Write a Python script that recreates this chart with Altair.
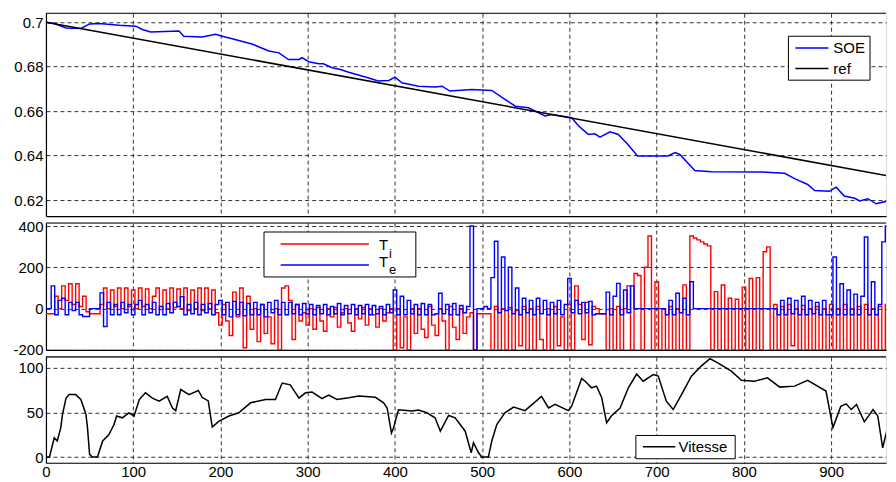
import altair as alt
import pandas as pd

FONT = "Liberation Sans"
X_DOMAIN = [0, 962.8]
X_TICKS = [0, 100, 200, 300, 400, 500, 600, 700, 800, 900]

# ---------------- data ----------------
soe_t = [0, 9.5, 23, 40, 50, 61, 84, 103, 110.5, 120, 152.5, 158, 179, 194.5, 202,
         213.5, 236, 255.5, 267, 278, 290, 293.5, 301, 312.7, 318, 328, 337.5, 347,
         366, 381, 393, 400, 408, 427, 446, 454, 463, 488, 511, 526, 538, 553, 572,
         580, 602.5, 610, 621.6, 629, 635, 646.5, 656, 667, 678, 713, 721, 726.5,
         743.7, 762.7, 820, 846.7, 858, 873, 881, 898, 905.7, 915, 927, 932.6, 942,
         951.5, 965, 970]
soe_v = [0.7, 0.6994, 0.6974, 0.6972, 0.6992, 0.6994, 0.6986, 0.6982, 0.6967, 0.6956,
         0.696, 0.6937, 0.6933, 0.6945, 0.6937, 0.6925, 0.6902, 0.687, 0.6862, 0.6832,
         0.6832, 0.684, 0.6822, 0.6813, 0.6813, 0.6795, 0.6787, 0.6775, 0.6753, 0.6735,
         0.6738, 0.6753, 0.6727, 0.6712, 0.6708, 0.6712, 0.669, 0.6697, 0.6693, 0.6653,
         0.6622, 0.6615, 0.6578, 0.6585, 0.657, 0.6535, 0.6495, 0.6498, 0.6483, 0.6507,
         0.6495, 0.645, 0.6398, 0.6398, 0.6413, 0.6405, 0.6333, 0.6327, 0.6326, 0.632,
         0.6296, 0.627, 0.6243, 0.624, 0.6258, 0.6218, 0.6208, 0.6196, 0.6206, 0.6183,
         0.6196, 0.6169]

ref_t = [0, 973]
ref_v = [0.7, 0.6303]

# torque samples every 4 s
torque_t = list(range(0, 976, 4))
ti_v = [
    -25, -25, -25, 60, 0, 110, 40, 120, 20, 120, 10, 60, -15, -25, -25, -25, 20, 100, 0, 90, 10, 100, 0, 100, 10,
    90, 0, 100, 10, 95, 0, 60, 100, -5, 90, 0, 100, 5, 95, 0, 100, -10, 90, 0, 100, -10, 100, 0, 90, -20,
    -80, 20, -60, -130, 80, -40, 100, -190, 60, -100, 0, -160, 20, -120, -40, -170, 0, -200, 100, 110, 40, -150, 20, -60, -20,
    -80, 0, -100, 5, -60, -110, 0, -40, 5, -90, -20, 0, -70, -110, 0, -50, 5, -80, 0, -30, -90, 0, -60, -20, 0,
    -200, 0, -190, -40, -200, 0, -120, 0, -100, -140, 10, -80, -130, 0, -60, -200, 10, -90, -150, 0, -120, -40, -20, -200, -25,
    -25, -25, -25, -200, 10, -200, 0, -200, 5, -200, -10, -180, 10, -200, 0, -200, 10, -150, -200, 0, -200, 10, -180, -40, -200,
    20, -200, 110, 20, -150, 30, -175, 10, 0, -25, -25, -200, 0, -200, 10, -200, 0, 110, -200, 170, 160, -200, 200, 352, -200,
    130, -200, 0, -200, 10, -200, 0, -200, 115, -200, 352, 342, 333, 323, 313, 304, -200, 82, -200, 114, -200, 50, -200, 45, -200,
    104, -200, 146, -200, 150, -200, 275, 299, -200, 20, -200, 10, -200, 20, -180, 0, -200, 15, -200, 0, -200, 10, -200, 0, -200,
    20, -200, 0, -200, 20, -200, 0, -200, 10, -200, 20, -200, 0, -200, 10, -200, 20, -200, 10,
]
te_v = [
    0, 0, 110, -30, 40, 50, -30, 30, -10, 30, -30, -38, -38, 0, 0, 0, 76, -87, 30, -30, 20, -30, 30, -20, 20,
    -30, 20, 40, -30, 20, -20, 30, -30, 10, -30, 25, -20, 30, 10, 58, -30, 20, -25, 30, -30, 20, -20, 25, -30, 20,
    40, -30, 30, -40, 35, -30, 30, -35, 25, -30, 30, -30, 20, -40, 30, -20, 40, -30, 30, -30, 30, -25, 20, -30, 25,
    -25, 20, -30, 15, -25, 20, -30, 10, -25, 25, -30, 15, -25, 20, -30, 15, -25, 20, -30, 15, -25, 10, -30, 20, -20,
    90, -30, 60, -30, 40, -25, 20, -30, 25, -30, 20, -30, -25, 74, -25, 20, -30, 25, -30, 15, -20, 10, 400, -200, 0,
    0, 10, 0, 150, 326, -20, 250, -10, 200, -25, 100, -30, 50, -20, 40, -30, 50, -25, 40, -30, 30, -25, 40, -30, 20,
    146, -20, 40, -25, 30, -20, 35, -30, -25, -25, -25, 80, -30, 60, 122, -30, 90, -20, 110, 0, 0, 0, 0, 0, 0,
    0, 0, 0, -30, 40, -30, 74, -20, 50, -30, 130, 0, 0, 0, 0, 0, 0, 0, 0, 0, 0, 0, 0, 0, 0,
    0, 0, 0, 0, 0, 0, 0, 0, 0, 0, -30, 40, -30, 50, -25, 40, -30, 60, -30, 40, -25, 30, -30, 40, -30,
    -30, 250, -30, 120, -30, 90, -30, 70, -30, 60, 347, -30, 130, -30, 20, 323, 400, -30, 80,
]

speed_t = [0, 4, 7.6, 9.5, 13, 17, 19, 23, 26.7, 34, 40, 45.8, 47.6, 50, 53, 59, 65, 72, 78, 81,
           87.6, 95, 101, 107, 114, 122, 129.6, 139, 145, 148.7, 154.5, 164, 174.6, 179, 186,
           190.6, 198, 209.7, 221, 234.5, 251.7, 263, 270.7, 280, 290, 297.5, 305, 316.5, 324,
           333.6, 347, 358.5, 377.6, 387, 391, 396, 398.5, 404, 419.5, 427, 436.6, 446, 452,
           461.5, 469, 480.5, 487.4, 490, 495.8, 499.5, 507, 511, 516.7, 526, 536, 549, 568,
           576, 583.5, 598.7, 602.5, 614, 618, 625.4, 631, 637, 642.6, 648, 658, 667.5, 677,
           684.5, 696, 701.7, 711, 718.9, 728.4, 739.8, 751, 761, 770, 785.6, 797, 812, 827,
           841, 858, 873, 894, 902, 911, 917, 923, 929, 934, 938, 948, 953.4, 959, 966, 971]
speed_v = [0, 0, 14, 21.6, 18, 33, 48, 66, 70, 70, 64.5, 48, 33, 3, 0, 0, 18, 25, 36.5, 46,
           44, 49.6, 46, 64.5, 72, 66, 62.7, 68, 55, 52, 75.7, 70, 74.6, 67, 63,
           33.6, 40, 46, 49.6, 60.8, 64.5, 64.5, 83, 81, 66, 72, 72.8, 65.6, 69.4,
           64.5, 66.4, 68.3, 67, 60.8, 55, 27, 33, 53, 51.5, 52.6, 49.6, 44, 29,
           46.6, 44, 29, 4.8, 16, 4.8, 0, 0, 18, 36.5, 49.6, 56, 52, 68,
           55, 59, 52, 57, 88, 85, 77.6, 79.5, 66.4, 38.4, 46, 55, 77.6, 93,
           85, 92.5, 90.7, 62.7, 53.3, 70, 90.7, 102, 110.4, 105.6, 96.3, 86, 85, 88.8,
           78.4, 79.5, 86, 74, 33, 57, 59.7, 53.3, 59, 48, 39.5, 53.3, 46, 10.4, 38.4, 10.4]

soe_df = pd.DataFrame({"t": soe_t, "v": soe_v})
ref_df = pd.DataFrame({"t": ref_t, "v": ref_v})
ti_df = pd.DataFrame({"t": torque_t, "v": ti_v})
te_df = pd.DataFrame({"t": torque_t, "v": te_v})
sp_df = pd.DataFrame({"t": speed_t, "v": speed_v})
dummy = pd.DataFrame({"a": [0]})

W = 841
H_TOP, H_MID, H_BOT = 203, 127, 106
LABEL_EXPR = "'' + datum.value"


def x_enc(show_labels):
    return alt.X("t:Q", scale=alt.Scale(domain=X_DOMAIN, nice=False, zero=False),
                 axis=alt.Axis(values=X_TICKS, grid=True, gridDash=[4, 3], gridColor="#333",
                               gridWidth=1, domain=True, domainColor="black", domainWidth=1.2,
                               ticks=False, labels=show_labels, labelExpr=LABEL_EXPR,
                               labelFont=FONT, labelFontSize=15, labelColor="black",
                               labelPadding=2, labelFlush=False, labelOverlap=False,
                               title=None))


def y_enc(domain, ticks):
    return alt.Y("v:Q", scale=alt.Scale(domain=domain, nice=False, zero=False),
                 axis=alt.Axis(values=ticks, labelExpr=LABEL_EXPR, grid=True, gridDash=[4, 3],
                               gridColor="#333", gridWidth=1, domain=True, domainColor="black",
                               domainWidth=1.2, ticks=False,
                               labelFont=FONT, labelFontSize=15, labelColor="black",
                               labelPadding=3, labelFlush=False, labelOverlap=False,
                               title=None))


def top_border():
    return alt.Chart(dummy).mark_rule(color="black", strokeWidth=1.2).encode(
        x=alt.value(0), x2=alt.value(W), y=alt.value(0))


def legend_box(x1, x2, y1, y2):
    return alt.Chart(dummy).mark_rect(fill="white", stroke="black", strokeWidth=1).encode(
        x=alt.value(x1), x2=alt.value(x2), y=alt.value(y1), y2=alt.value(y2))


def legend_line(x1, x2, y, color):
    return alt.Chart(dummy).mark_rule(color=color, strokeWidth=1.5).encode(
        x=alt.value(x1), x2=alt.value(x2), y=alt.value(y))


def legend_text(x, y, txt, size=15):
    return alt.Chart(dummy).mark_text(text=txt, font=FONT, fontSize=size, align="left",
                                      baseline="middle", color="black").encode(
        x=alt.value(x), y=alt.value(y))


# ---------------- top panel : SOE ----------------
ydom_top = [0.6128, 0.7040]
yt_top = [0.62, 0.64, 0.66, 0.68, 0.7]
soe_line = alt.Chart(soe_df).mark_line(color="#0000ff", strokeWidth=1.5, clip=True).encode(
    x=x_enc(False), y=y_enc(ydom_top, yt_top))
ref_line = alt.Chart(ref_df).mark_line(color="black", strokeWidth=1.5, clip=True).encode(
    x=x_enc(False), y=y_enc(ydom_top, yt_top))
top = alt.layer(
    soe_line, ref_line, top_border(),
    legend_box(743.3, 825, 23, 67),
    legend_line(750.3, 783.3, 34.7, "#0000ff"),
    legend_line(750.3, 783.3, 55.3, "black"),
    legend_text(788.3, 35, "SOE"),
    legend_text(788.3, 55.5, "ref"),
).properties(width=W, height=H_TOP)

# ---------------- middle panel : torques ----------------
ydom_mid = [-200, 414.5]
yt_mid = [-200, 0, 200, 400]
ti_line = alt.Chart(ti_df).mark_line(color="#ff0000", strokeWidth=1.4, clip=True,
                                     interpolate="step").encode(
    x=x_enc(False), y=y_enc(ydom_mid, yt_mid))
te_line = alt.Chart(te_df).mark_line(color="#0000ff", strokeWidth=1.4, clip=True,
                                     interpolate="step").encode(
    x=x_enc(False), y=y_enc(ydom_mid, yt_mid))
mid = alt.layer(
    ti_line, te_line, top_border(),
    legend_box(218.3, 370.3, 9, 54),
    legend_line(235, 323.3, 21, "#ff0000"),
    legend_line(235, 323.3, 42, "#0000ff"),
    legend_text(333.3, 22, "T"),
    legend_text(343.5, 31, "i", 13),
    legend_text(333.3, 39.5, "T"),
    legend_text(343.5, 47, "e", 13),
).properties(width=W, height=H_MID)

# ---------------- bottom panel : speed ----------------
ydom_bot = [-6.4, 112.3]
yt_bot = [0, 50, 100]
sp_line = alt.Chart(sp_df).mark_line(color="black", strokeWidth=1.5, clip=True).encode(
    x=x_enc(True), y=y_enc(ydom_bot, yt_bot))
bot = alt.layer(
    sp_line, top_border(),
    legend_box(590.6, 690, 78.7, 102),
    legend_line(597.6, 630, 90, "black"),
    legend_text(633.3, 90.2, "Vitesse"),
).properties(width=W, height=H_BOT)

chart = alt.vconcat(top, mid, bot, spacing=7, bounds="flush").properties(
    padding={"left": 4, "top": 3, "right": 0, "bottom": 0}
).configure_view(stroke="transparent").configure(background="white")

chart.save("out.html", embed_options={"renderer": "svg", "actions": False})
